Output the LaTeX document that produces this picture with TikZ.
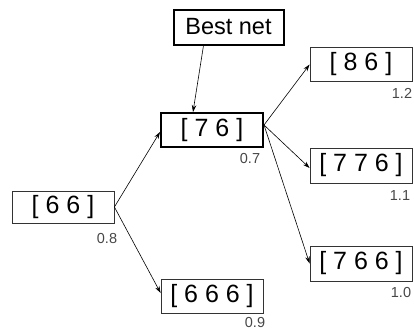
\documentclass[tikz,border=0pt]{standalone}
\usepackage{fontspec}
\setmainfont{Liberation Sans}
\usetikzlibrary{arrows.meta}
\begin{document}
\begin{tikzpicture}[x=1pt,y=-1pt,
  netbox/.style={draw=black!80,line width=0.8pt,minimum width=102pt,minimum height=34pt,inner sep=0pt,font=\fontsize{25}{28}\selectfont,text=black},
  bestbox/.style={netbox,draw=black,line width=2pt},
  score/.style={font=\fontsize{14.5}{16}\selectfont,text=black!72,inner sep=0pt},
  conn/.style={line width=0.6pt,-{Stealth[length=7pt,width=4.5pt]}}]
\useasboundingbox (0,0) rectangle (414,332);
\node[bestbox,minimum width=110pt,minimum height=35pt,font=\fontsize{23.5}{26}\selectfont] (best) at (228.5,27) {Best net};
\node[bestbox] (n76) at (212,130) {[ 7 6 ]};
\node[netbox,minimum height=32pt] (n66) at (63,207) {[ 6 6 ]};
\node[netbox] (n666) at (212,296) {[ 6 6 6 ]};
\node[netbox] (n86) at (361,64.5) {[ 8 6 ]};
\node[netbox,minimum height=35pt] (n776) at (361,165.5) {[ 7 7 6 ]};
\node[netbox,minimum height=35pt] (n766) at (361,263.5) {[ 7 6 6 ]};
\node[score] (s76) at (250,159) {0.7};
\node[score] (s66) at (107,239) {0.8};
\node[score] (s666) at (255,323) {0.9};
\node[score] (s86) at (402,93) {1.2};
\node[score] (s776) at (400,196) {1.1};
\node[score] (s766) at (401,293) {1.0};
\coordinate (o76) at ([yshift=5pt]n76.east);
\draw[conn] ([xshift=-25pt]best.south) -- ([xshift=-19pt]n76.north);
\draw[conn] (n66.east) -- ([yshift=-2pt]n76.west);
\draw[conn] (n66.east) -- ([yshift=3pt]n666.west);
\draw[conn] (o76) -- (n86.west);
\draw[conn] (o76) -- ([yshift=-2.5pt]n776.west);
\draw[conn] (o76) -- (n766.west);
\end{tikzpicture}
\end{document}
